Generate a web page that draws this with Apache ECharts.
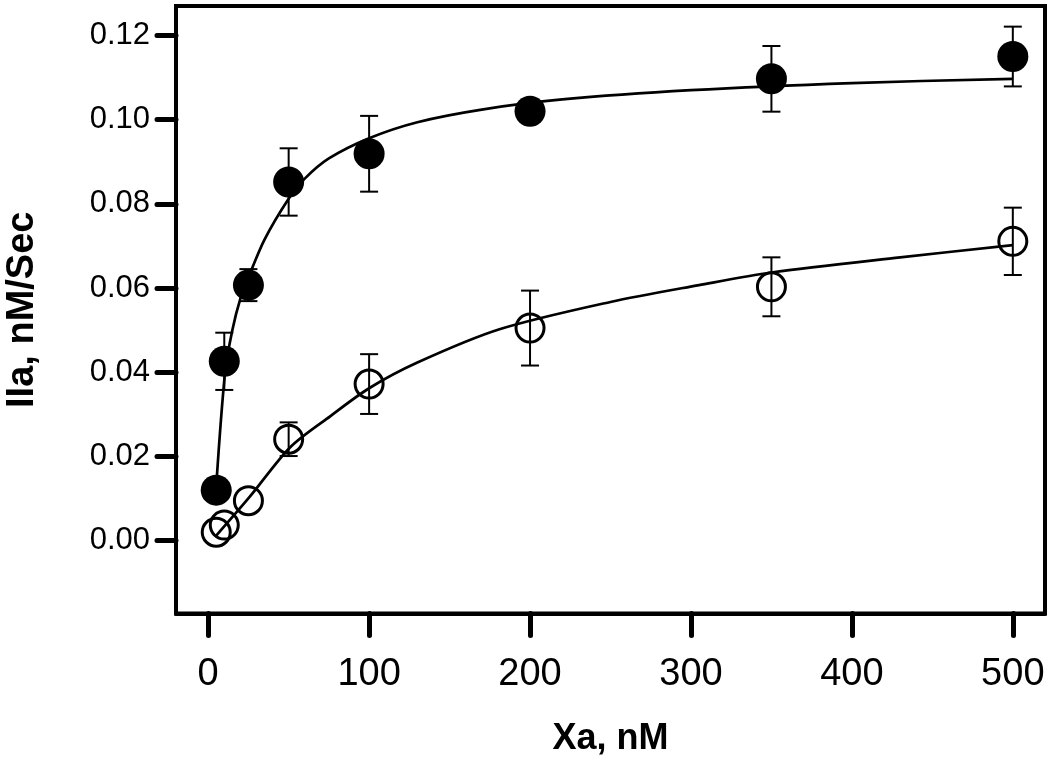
<!DOCTYPE html>
<html>
<head>
<meta charset="utf-8">
<script src="https://cdn.jsdelivr.net/npm/echarts@6/dist/echarts.min.js"></script>
<style>
html,body{margin:0;padding:0;background:#fff;}
#chart{width:1050px;height:759px;}
</style>
</head>
<body>
<div id="chart"></div>
<script>
// Measured data (Xa concentration, nM)
const xValues = [5, 10, 25, 50, 100, 200, 350, 500];
const filledY = [0.012, 0.0426, 0.0607, 0.0852, 0.0919, 0.102, 0.1097, 0.115];
const filledErr = [0, 0.0068, 0.0038, 0.008, 0.009, 0, 0.0078, 0.0071];
const openY = [0.002, 0.0037, 0.0095, 0.0241, 0.0372, 0.0505, 0.0603, 0.0711];
const openErr = [0, 0, 0, 0.004, 0.0071, 0.0089, 0.007, 0.008];

// Fitted curves
const filledCurveX = [5, 10.5, 15, 20, 25, 35, 50, 60, 75, 100, 130, 170, 220, 300, 400, 500];
const filledCurveY = [0.013, 0.040, 0.050, 0.0575, 0.0625, 0.0715, 0.0812, 0.0860, 0.0908, 0.0956, 0.0994, 0.1024, 0.1048, 0.1070, 0.1087, 0.1097];
const openCurveX = [5, 26, 51, 76, 100, 130, 181, 250, 305, 350, 430, 500];
const openCurveY = [0.0012, 0.0105, 0.0222, 0.0296, 0.0362, 0.0423, 0.0502, 0.0567, 0.0607, 0.0637, 0.0673, 0.0702];

const xTicks = [0, 100, 200, 300, 400, 500];
const yTicks = [0, 0.02, 0.04, 0.06, 0.08, 0.10, 0.12];

const FONT = "'Liberation Sans', Arial, sans-serif";

function zip(a, b) { return a.map((v, i) => [v, b[i]]); }
function errData(ys, errs) {
  const out = [];
  xValues.forEach((x, i) => { if (errs[i] > 0) out.push([x, ys[i], errs[i]]); });
  return out;
}
function errRender(params, api) {
  const x = api.value(0), y = api.value(1), e = api.value(2);
  const top = api.coord([x, y + e]);
  const bot = api.coord([x, y - e]);
  const hw = 9;
  const style = { stroke: '#000', lineWidth: 2, fill: null };
  return {
    type: 'group',
    children: [
      { type: 'line', shape: { x1: top[0], y1: top[1], x2: bot[0], y2: bot[1] }, style },
      { type: 'line', shape: { x1: top[0] - hw, y1: top[1], x2: top[0] + hw, y2: top[1] }, style },
      { type: 'line', shape: { x1: bot[0] - hw, y1: bot[1], x2: bot[0] + hw, y2: bot[1] }, style }
    ]
  };
}

const chart = echarts.init(document.getElementById('chart'), null, { renderer: 'canvas' });
chart.setOption({
  animation: false,
  backgroundColor: '#fff',
  grid: { left: 176, right: 5, top: 6, bottom: 145.5, containLabel: false, outerBoundsMode: 'none',
    show: true, borderColor: '#000', borderWidth: 4, backgroundColor: 'transparent' },
  xAxis: {
    type: 'value', min: -20, max: 520,
    name: 'Xa, nM', nameLocation: 'middle', nameGap: 108,
    nameTextStyle: { fontFamily: FONT, fontSize: 36, fontWeight: 'bold', color: '#000' },
    axisLine: { show: true, onZero: false, lineStyle: { color: '#000', width: 4 } },
    splitLine: { show: false },
    axisTick: { show: true, customValues: xTicks, length: 22, inside: false, lineStyle: { color: '#000', width: 5, cap: 'round' } },
    axisLabel: { customValues: xTicks, fontFamily: FONT, fontSize: 38, color: '#000', margin: 42 }
  },
  yAxis: {
    type: 'value', min: -0.0173, max: 0.127,
    name: 'IIa, nM/Sec', nameLocation: 'middle', nameGap: 134,
    nameTextStyle: { fontFamily: FONT, fontSize: 38, fontWeight: 'bold', color: '#000' },
    axisLine: { show: true, onZero: false, lineStyle: { color: '#000', width: 4 } },
    splitLine: { show: false },
    axisTick: { show: true, customValues: yTicks, length: 19, inside: false, lineStyle: { color: '#000', width: 5, cap: 'round' } },
    axisLabel: { customValues: yTicks, fontFamily: FONT, fontSize: 31, color: '#000', margin: 26,
      formatter: v => v.toFixed(2) }
  },
  series: [
    { type: 'line', data: zip(openCurveX, openCurveY), symbol: 'none', smooth: 0.3,
      lineStyle: { color: '#000', width: 2.7 }, z: 2 },
    { type: 'line', data: zip(filledCurveX, filledCurveY), symbol: 'none', smooth: 0.3,
      lineStyle: { color: '#000', width: 2.7 }, z: 2 },
    { type: 'custom', data: errData(openY, openErr), renderItem: errRender, z: 3 },
    { type: 'custom', data: errData(filledY, filledErr), renderItem: errRender, z: 3 },
    { type: 'scatter', data: zip(xValues, openY), symbol: 'circle', symbolSize: 28,
      itemStyle: { color: 'rgba(0,0,0,0)', borderColor: '#000', borderWidth: 3, opacity: 1 }, z: 4 },
    { type: 'scatter', data: zip(xValues, filledY), symbol: 'circle', symbolSize: 31,
      itemStyle: { color: '#000', opacity: 1 }, z: 5 }
  ]
});
</script>
</body>
</html>
